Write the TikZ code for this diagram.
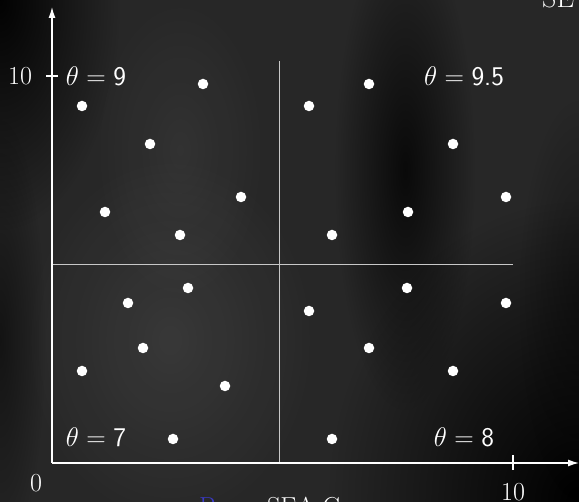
\RequirePackage{fix-cm}
\documentclass[tikz,border=0pt]{standalone}
\usetikzlibrary{arrows.meta,fadings}
\tikzfading[name=radfade, inner color=transparent!0, outer color=transparent!100]
\definecolor{bgbase}{HTML}{272727}
\definecolor{divgray}{HTML}{C8C8C8}
\definecolor{titleblue}{HTML}{3A3AC8}
\newcommand{\sfd}[1]{\mbox{\sffamily #1}}
\tikzset{
  axisline/.style={draw=white,line width=1.3pt},
  arrowline/.style={axisline,-{Latex[length=11pt,width=7pt]}},
  divider/.style={draw=divgray,line width=1pt},
  dot/.style={circle,fill=white,inner sep=0pt,minimum size=10.5pt},
  lbl/.style={text=white,font=\fontsize{27}{32}\selectfont,inner sep=0pt},
  numlbl/.style={text=white,font=\fontsize{26}{31}\selectfont,inner sep=0pt},
}
\begin{document}
\begin{tikzpicture}[x=1pt,y=-1pt]
\useasboundingbox (0,0) rectangle (579,502);
\clip (0,0) rectangle (579,502);
% background
\fill[bgbase] (0,0) rectangle (579,502);
\fill[white,opacity=0.08,path fading=radfade] (170,340) ellipse (150 and 190);
\fill[white,opacity=0.05,path fading=radfade] (180,150) ellipse (90 and 160);
\fill[black,opacity=0.95,path fading=radfade] (0,0) ellipse (120 and 230);
\fill[black,opacity=0.5,path fading=radfade] (0,340) ellipse (45 and 220);
\fill[black,opacity=0.75,path fading=radfade] (405,170) ellipse (70 and 240);
\fill[black,path fading=radfade] (579,502) ellipse (250 and 300);
\fill[black,opacity=0.4,path fading=radfade] (579,300) ellipse (60 and 200);
% title fragments
\node[text=white,font=\fontsize{28}{32}\selectfont,anchor=base west,inner sep=0pt] (title) at (542,8) {SE};
\node[font=\fontsize{26}{31}\selectfont,anchor=base west,inner sep=0pt,text=titleblue] (bottomB) at (199,516) {B};
\node[font=\fontsize{26}{31}\selectfont,anchor=base west,inner sep=0pt,text=white] (bottomSEA) at (267,516) {SEA C};
% coordinates
\coordinate (O) at (52,463);
\coordinate (Ytop) at (52,7);
\coordinate (Xend) at (579,463);
\coordinate (Vtop) at (279,61);
\coordinate (Vbot) at (279,463);
\coordinate (Hl) at (52,265);
\coordinate (Hr) at (513,265);
\coordinate (ytA) at (46,76);
\coordinate (ytB) at (58,76);
\coordinate (xtA) at (513,455);
\coordinate (xtB) at (513,470);
% dividers
\draw[divider] (Vtop) -- (Vbot);
\draw[divider] (Hl) -- (Hr);
% axes
\draw[arrowline] (O) -- (Ytop);
\draw[arrowline] (O) -- (Xend);
\draw[axisline] (ytA) -- (ytB);
\draw[axisline] (xtA) -- (xtB);
% axis labels
\node[numlbl] (y10) at (20,76) {10};
\node[numlbl] (x0) at (36,483) {0};
\node[numlbl] (x10) at (513,492) {10};
% quadrant labels
\node[lbl] (t9) at (96,76) {$\theta=\sfd{9}$};
\node[lbl] (t95) at (464,76) {$\theta=\sfd{9.5}$};
\node[lbl] (t7) at (96,437) {$\theta=\sfd{7}$};
\node[lbl] (t8) at (464,437) {$\theta=\sfd{8}$};
% dots top-left
\node[dot] (a1) at (82,106) {};
\node[dot] (a2) at (203,84) {};
\node[dot] (a3) at (150,144) {};
\node[dot] (a4) at (105,212) {};
\node[dot] (a5) at (241,197) {};
\node[dot] (a6) at (180,235) {};
% dots top-right
\node[dot] (b1) at (309,106) {};
\node[dot] (b2) at (369,84) {};
\node[dot] (b3) at (453,144) {};
\node[dot] (b4) at (332,235) {};
\node[dot] (b5) at (408,212) {};
\node[dot] (b6) at (506,197) {};
% dots bottom-left
\node[dot] (c1) at (128,303) {};
\node[dot] (c2) at (188,288) {};
\node[dot] (c3) at (143,348) {};
\node[dot] (c4) at (82,371) {};
\node[dot] (c5) at (225,386) {};
\node[dot] (c6) at (173,439) {};
% dots bottom-right
\node[dot] (d1) at (309,311) {};
\node[dot] (d2) at (407,288) {};
\node[dot] (d3) at (506,303) {};
\node[dot] (d4) at (369,348) {};
\node[dot] (d5) at (453,371) {};
\node[dot] (d6) at (332,439) {};
\end{tikzpicture}
\end{document}
